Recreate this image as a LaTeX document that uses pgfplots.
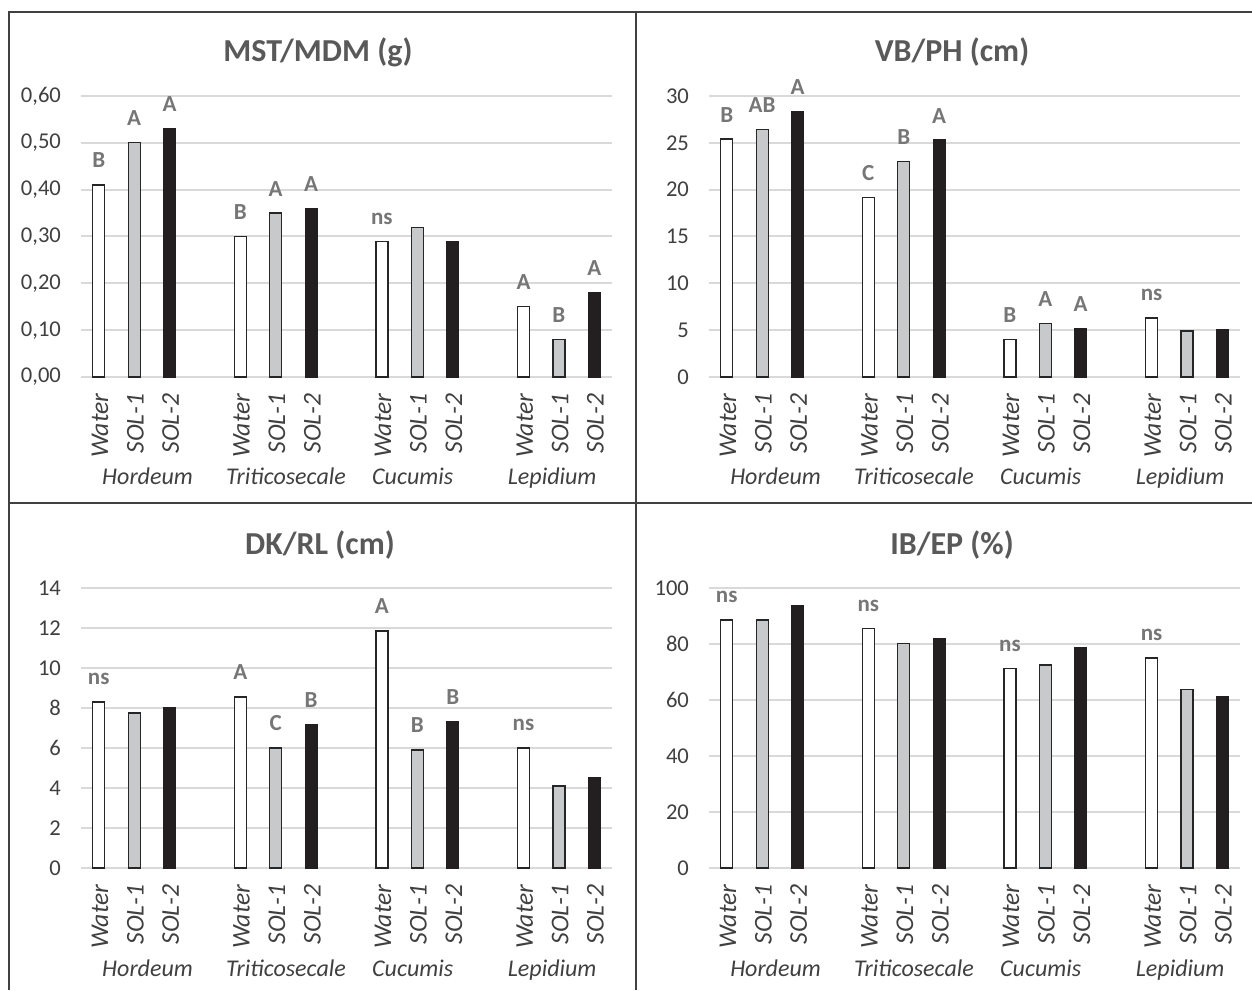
\documentclass[border=0pt]{standalone}
\usepackage{fontspec}
\setmainfont{Carlito}
\usepackage{pgfplots}
\pgfplotsset{compat=1.18}
\definecolor{gridc}{HTML}{D9D9D9}
\definecolor{barline}{HTML}{262626}
\definecolor{solgray}{HTML}{C8C9CA}
\definecolor{solblack}{HTML}{231F20}
\definecolor{lettc}{HTML}{767676}
\definecolor{titc}{HTML}{595959}
\definecolor{tickc}{HTML}{404040}
\definecolor{framec}{HTML}{404040}
\pgfplotsset{
 panel/.style={
  scale only axis, width=265.5pt, height=140.5pt,
  xmin=-0.5, xmax=14.5, ymin=0,
  axis line style={draw=none},
  major tick length=0pt,
  ymajorgrids, grid style={gridc, line width=1pt},
  xtick={0,1,2,4,5,6,8,9,10,12,13,14},
  xticklabels={Water,SOL-1,SOL-2,Water,SOL-1,SOL-2,Water,SOL-1,SOL-2,Water,SOL-1,SOL-2},
  xticklabel style={yshift=-4.8pt, xshift=0.6pt, rotate=90, anchor=east, font=\fontsize{12.8}{14}\selectfont\itshape, text=tickc},
  yticklabel style={font=\fontsize{11.3}{13}\selectfont, text=tickc, xshift=-6.5pt},
  /pgf/number format/assume math mode=true,
  ybar, bar width=6pt,
  point meta=explicit symbolic,
  nodes near coords={\pgfplotspointmeta},
  every node near coord/.style={anchor=base, yshift=8.5pt, font=\fontsize{11.5}{13}\selectfont\bfseries, text=lettc},
  clip=false,
 },
 wat/.style={fill=white, draw=barline, line width=0.6pt, bar shift=0pt},
 s1/.style={fill=solgray, draw=barline, line width=0.6pt, bar shift=0pt},
 s2/.style={fill=solblack, draw=solblack, line width=0.6pt, bar shift=0pt},
}
\tikzset{cat/.style={font=\fontsize{12}{14}\selectfont\itshape, text=tickc, anchor=base, yshift=-54pt}}
\newcommand{\cats}{%
  \node[cat] at (axis cs:1.38,0) {Hordeum};
  \node[cat] at (axis cs:5.29,0) {Triticosecale};
  \node[cat] at (axis cs:8.87,0) {Cucumis};
  \node[cat] at (axis cs:12.81,0) {Lepidium};
}
\begin{document}
\begin{tikzpicture}
\useasboundingbox (0,0) rectangle (626pt,495pt);
% frame
\draw[framec, line width=1pt] (4.5pt,0) -- (4.5pt,489pt) -- (626pt,489pt);
\draw[framec, line width=1pt] (318pt,0) -- (318pt,489pt);
\draw[framec, line width=1pt] (4.5pt,243.5pt) -- (626pt,243.5pt);
% titles
\node[font=\fontsize{16}{19}\selectfont\bfseries, text=titc] at (159pt,469pt) {MST/MDM (g)};
\node[font=\fontsize{16}{19}\selectfont\bfseries, text=titc] at (476pt,469pt) {VB/PH (cm)};
\node[font=\fontsize{16}{19}\selectfont\bfseries, text=titc] at (160pt,222.5pt) {DK/RL (cm)};
\node[font=\fontsize{16}{19}\selectfont\bfseries, text=titc] at (476pt,222.5pt) {IB/EP (\%)};

% Panel 1
\begin{axis}[panel, at={(40.5pt,306.5pt)}, anchor=south west, ymax=0.6,
  ytick={0,0.1,0.2,0.3,0.4,0.5,0.6},
  yticklabel style={/pgf/number format/.cd, fixed, fixed zerofill, precision=2, use comma}]
\addplot[wat] table[x=x,y=y,meta=l] {
x y l
0 0.41 B
4 0.30 B
8 0.29 ns
12 0.15 A
};
\addplot[s1] table[x=x,y=y,meta=l] {
x y l
1 0.50 A
5 0.35 A
9 0.32 {}
13 0.08 B
};
\addplot[s2] table[x=x,y=y,meta=l] {
x y l
2 0.53 A
6 0.36 A
10 0.29 {}
14 0.18 A
};
\cats
\end{axis}

% Panel 2
\begin{axis}[panel, at={(354.5pt,306.5pt)}, anchor=south west, ymax=30,
  ytick={0,5,10,15,20,25,30}]
\addplot[wat] table[x=x,y=y,meta=l] {
x y l
0 25.4 B
4 19.2 C
8 4.0 B
12 6.3 ns
};
\addplot[s1] table[x=x,y=y,meta=l] {
x y l
1 26.4 AB
5 23.0 B
9 5.7 A
13 4.9 {}
};
\addplot[s2] table[x=x,y=y,meta=l] {
x y l
2 28.3 A
6 25.3 A
10 5.2 A
14 5.1 {}
};
\cats
\end{axis}

% Panel 3
\begin{axis}[panel, at={(40.5pt,61pt)}, anchor=south west, height=140pt, ymax=14,
  ytick={0,2,4,6,8,10,12,14}]
\addplot[wat] table[x=x,y=y,meta=l] {
x y l
0 8.3 ns
4 8.55 A
8 11.85 A
12 6.0 ns
};
\addplot[s1] table[x=x,y=y,meta=l] {
x y l
1 7.75 {}
5 6.0 C
9 5.9 B
13 4.1 {}
};
\addplot[s2] table[x=x,y=y,meta=l] {
x y l
2 8.0 {}
6 7.15 B
10 7.3 B
14 4.5 {}
};
\cats
\end{axis}

% Panel 4
\begin{axis}[panel, at={(354.5pt,61pt)}, anchor=south west, height=140pt, ymax=100,
  ytick={0,20,40,60,80,100}]
\addplot[wat] table[x=x,y=y,meta=l] {
x y l
0 88.6 ns
4 85.4 ns
8 71.3 ns
12 75.0 ns
};
\addplot[s1] table[x=x,y=y,meta=l] {
x y l
1 88.6 {}
5 80.2 {}
9 72.5 {}
13 63.7 {}
};
\addplot[s2] table[x=x,y=y,meta=l] {
x y l
2 93.7 {}
6 81.9 {}
10 78.7 {}
14 61.2 {}
};
\cats
\end{axis}
\end{tikzpicture}
\end{document}
